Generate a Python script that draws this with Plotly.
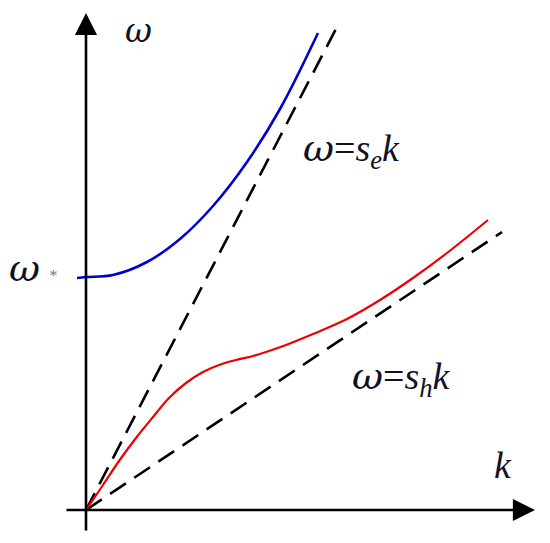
import plotly.graph_objects as go

# dispersion curves (k, omega in arbitrary units)
k_upper = [-0.09, 0.0, 0.27, 0.61, 0.94, 1.27, 1.61, 1.94, 2.32]
w_upper = [2.32, 2.33, 2.35, 2.48, 2.71, 3.04, 3.48, 4.01, 4.77]

k_lower = [0.0, 0.17, 0.33, 0.50, 0.67, 0.83, 1.00, 1.17, 1.33, 1.50, 1.67, 1.83, 2.00,
           2.27, 2.61, 2.94, 3.27, 3.61, 4.02]
w_lower = [0.0, 0.25, 0.49, 0.72, 0.93, 1.12, 1.27, 1.38, 1.45, 1.50, 1.54, 1.59, 1.65,
           1.76, 1.91, 2.10, 2.32, 2.57, 2.90]

# asymptotes omega = s k
k_se = [0.0, 2.52]
w_se = [0.0, 4.85]
k_sh = [0.0, 4.16]
w_sh = [0.0, 2.78]

# axis extents
k_axis = [-0.21, 4.49]
w_axis = [-0.22, 4.97]

fig = go.Figure()

dash = dict(color='black', width=2.6, dash='19px,10px')
fig.add_trace(go.Scatter(x=k_se, y=w_se, mode='lines', line=dash, showlegend=False))
fig.add_trace(go.Scatter(x=k_sh, y=w_sh, mode='lines', line=dash, showlegend=False))

fig.add_trace(go.Scatter(x=k_upper, y=w_upper, mode='lines', line_shape='spline',
                         line=dict(color='#0000cc', width=2.6), showlegend=False))
fig.add_trace(go.Scatter(x=k_lower, y=w_lower, mode='lines', line_shape='spline',
                         line=dict(color='#ee0000', width=2.2), showlegend=False))

# axes with arrows
arrow = dict(xref='x', yref='y', axref='x', ayref='y', showarrow=True,
             arrowhead=2, arrowsize=1.7, arrowwidth=2.6, arrowcolor='black', text='')
fig.add_annotation(x=k_axis[1], y=0, ax=k_axis[0], ay=0, **arrow)
fig.add_annotation(x=0, y=w_axis[1], ax=0, ay=w_axis[0], **arrow)

om = "<span style='font-family:DejaVu Serif'><i>ω</i></span>"
font = dict(family='Liberation Serif', size=38, color='#111122')
labels = [
    (om + '=<i>s<sub>e</sub>k</i>', 2.65, 3.60),
    (om + '=<i>s<sub>h</sub>k</i>', 3.15, 1.32),
    ('<i>k</i>', 4.17, 0.45),
]
for txt, x, y in labels:
    fig.add_annotation(x=x, y=y, text=txt, showarrow=False, font=font,
                       xanchor='center', yanchor='middle')

# omega label at the top of the vertical axis (a bit smaller so it stays inside the page)
fig.add_annotation(x=0.52, y=4.80, text=om, showarrow=False, font=dict(font, size=33),
                   xanchor='center', yanchor='middle')

fig.add_annotation(x=-0.53, y=2.42, text=om + " <span style='font-size:16px;color:#777777'>*</span>",
                   showarrow=False, font=font, xanchor='center', yanchor='middle')

# page body adds an 8px margin, so the figure is 8px smaller than the window
fig.update_layout(
    width=542, height=535,
    margin=dict(l=0, r=0, t=0, b=0),
    plot_bgcolor='white', paper_bgcolor='white',
    xaxis=dict(range=[-0.78, 4.64], visible=False),
    yaxis=dict(range=[-0.33, 5.02], visible=False),
)

fig.write_html("out.html")
